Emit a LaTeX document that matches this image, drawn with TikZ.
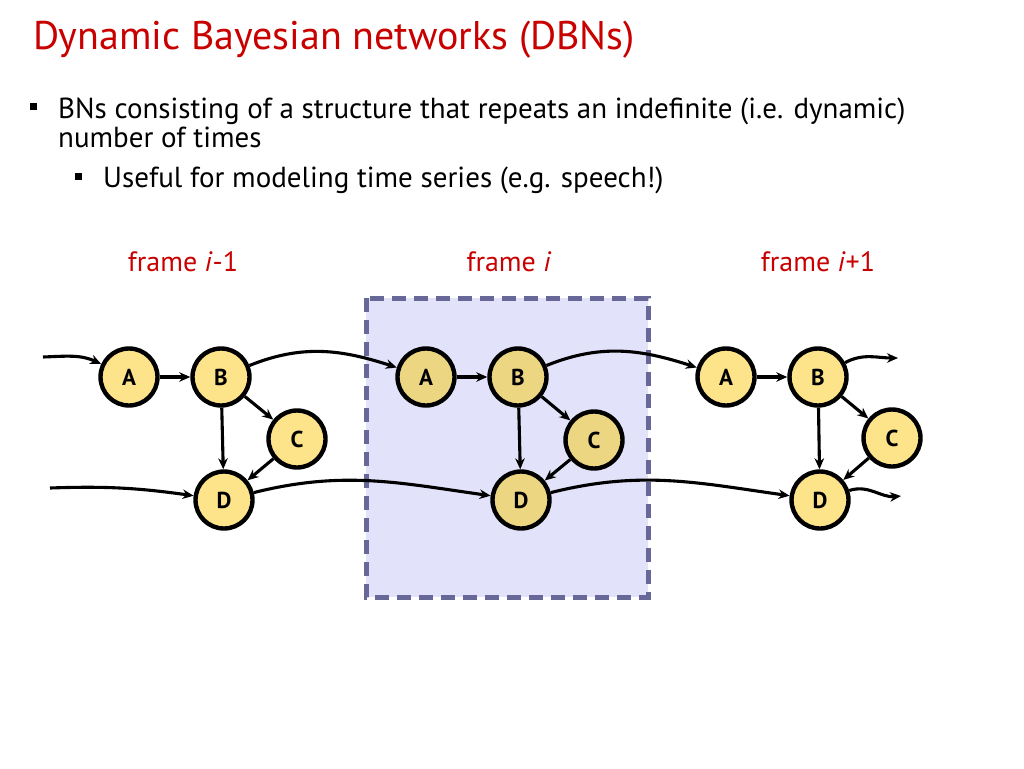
\documentclass[tikz,border=0pt]{standalone}
\usepackage{fontspec}
\setmainfont{PT Sans}
\usetikzlibrary{arrows.meta}
\definecolor{titlered}{RGB}{200,0,0}
\definecolor{nodeyel}{RGB}{253,227,138}
\definecolor{nodeyeldark}{RGB}{236,214,130}
\definecolor{boxfill}{RGB}{226,226,250}
\definecolor{boxline}{RGB}{104,104,152}
\tikzset{
  bn/.style={circle, draw=black, line width=4.4pt, fill=nodeyel, minimum size=57pt, inner sep=0pt, font=\fontsize{23}{23}\selectfont\bfseries},
  bndark/.style={bn, fill=nodeyeldark},
  edge/.style={line width=3.1pt, -{Stealth[length=11pt,width=9.5pt]}},
  flab/.style={text=titlered, font=\fontsize{28}{28}\selectfont, anchor=base},
  bul/.style={fill=black, minimum size=7pt, inner sep=0pt},
  txt/.style={anchor=base west, inner sep=0pt, font=\fontsize{29}{29}\selectfont}
}
\begin{document}
\begin{tikzpicture}[x=1pt,y=-1pt]
\useasboundingbox (0,0) rectangle (1024,768);
% title
\node[anchor=base west, inner sep=0pt, text=titlered, font=\fontsize{40}{40}\selectfont] (title) at (33,49) {Dynamic Bayesian networks (DBNs)};
% bullets
\node[bul] (b1) at (33,106) {};
\node[txt] (t1) at (58,118) {BNs consisting of a structure that repeats an indefinite (i.e. dynamic)};
\node[txt] (t2) at (58,147) {number of times};
\node[bul] (b2) at (78,176) {};
\node[txt] (t3) at (103,187) {Useful for modeling time series (e.g. speech!)};
% frame labels
\node[flab] (f1) at (183,271) {frame \textit{i}-1};
\node[flab] (f2) at (509,271) {frame \textit{i}};
\node[flab] (f3) at (818,271) {frame \textit{i}+1};
% box
\draw[fill=boxfill, draw=boxline, line width=5pt, dash pattern=on 14pt off 8pt] (366,298) rectangle (648,597);
% frame 1
\node[bn] (A1) at (129,377) {A};
\node[bn] (B1) at (221,377) {B};
\node[bn] (C1) at (297,439) {C};
\node[bn] (D1) at (224,500) {D};
% frame 2
\node[bndark] (A2) at (426,377) {A};
\node[bndark] (B2) at (518,377) {B};
\node[bndark] (C2) at (594,440) {C};
\node[bndark] (D2) at (521,500) {D};
% frame 3
\node[bn] (A3) at (726,377) {A};
\node[bn] (B3) at (818,377) {B};
\node[bn] (C3) at (892,438) {C};
\node[bn] (D3) at (820,500) {D};
% free ends
\coordinate (inA) at (43,357);
\coordinate (inD) at (50,488);
\coordinate (outB) at (898,358);
\coordinate (outD) at (901,496);
% intra-frame edges
\foreach \k in {1,2,3}{
  \draw[edge] (A\k) -- (B\k);
  \draw[edge] (B\k) -- (C\k);
  \draw[edge] (B\k) -- (D\k);
  \draw[edge] (C\k) -- (D\k);
}
% inter-frame edges
\draw[edge] (inA) to[out=2,in=155] (A1);
\draw[edge] (inD) to[out=2,in=172] (D1);
\draw[edge] (B1) to[out=22,in=162] (A2);
\draw[edge] (B2) to[out=22,in=162] (A3);
\draw[edge] (D1) to[out=14,in=172] (D2);
\draw[edge] (D2) to[out=14,in=172] (D3);
\draw[edge] (B3) to[out=28,in=180] (outB);
\draw[edge] (D3) to[out=18,in=185] (outD);
\end{tikzpicture}
\end{document}
